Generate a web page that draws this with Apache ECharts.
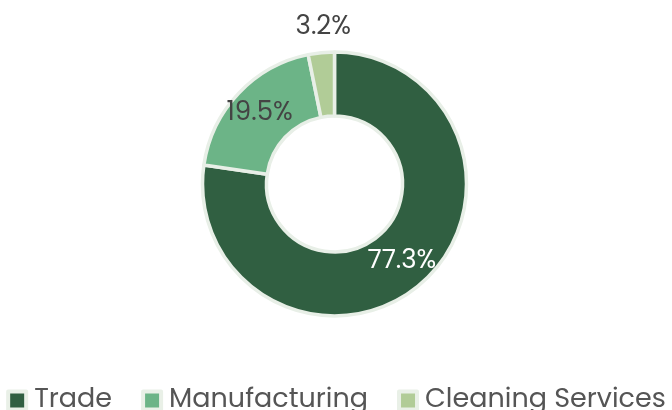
<!DOCTYPE html>
<html><head><meta charset="utf-8">
<script src="https://cdn.jsdelivr.net/npm/echarts@6/dist/echarts.min.js"></script>
<style>html,body{margin:0;padding:0;background:#fff}#c{width:672px;height:410px}</style>
</head><body><div id="c"></div>
<script>
const categories = ['Trade', 'Manufacturing', 'Cleaning Services'];
const values = [77.3, 19.5, 3.2];
const colors = ['#305f41', '#6cb487', '#b1cc97'];
const labelColors = ['#ffffff', '#444444', '#444444'];
const labelPositions = ['inside', 'inside', 'outside'];

const FONT = 'Poppins, Inter, sans-serif';
const chart = echarts.init(document.getElementById('c'));
chart.setOption({
  animation: false,
  color: colors,
  legend: {
    top: 387,
    left: 'center',
    padding: 0,
    icon: 'rect',
    itemWidth: 18,
    itemHeight: 18,
    itemGap: 29,
    itemStyle: { borderColor: '#e9f0e7', borderWidth: 4 },
    textStyle: { fontFamily: FONT, fontSize: 27, fontWeight: 400, color: '#555555', padding: [0, 0, 0, 3] },
    data: categories
  },
  series: [{
    type: 'pie',
    center: [334.5, 184],
    radius: [68, 132],
    startAngle: 90,
    clockwise: true,
    avoidLabelOverlap: false,
    itemStyle: { borderColor: '#e8efe7', borderWidth: 3.5 },
    label: { fontFamily: FONT, fontSize: 26, fontWeight: 400, formatter: '{c}%' },
    labelLine: { show: false, length: 26, length2: 0 },
    labelLayout: function (p) {
      if (labelPositions[p.dataIndex] === 'outside') {
        return { x: p.rect.x + p.rect.width / 2 + 2, y: p.rect.y - 23, align: 'center', verticalAlign: 'middle' };
      }
      return {};
    },
    data: categories.map((name, i) => ({
      name: name,
      value: values[i],
      label: { position: labelPositions[i], color: labelColors[i] }
    }))
  }]
});
</script></body></html>
